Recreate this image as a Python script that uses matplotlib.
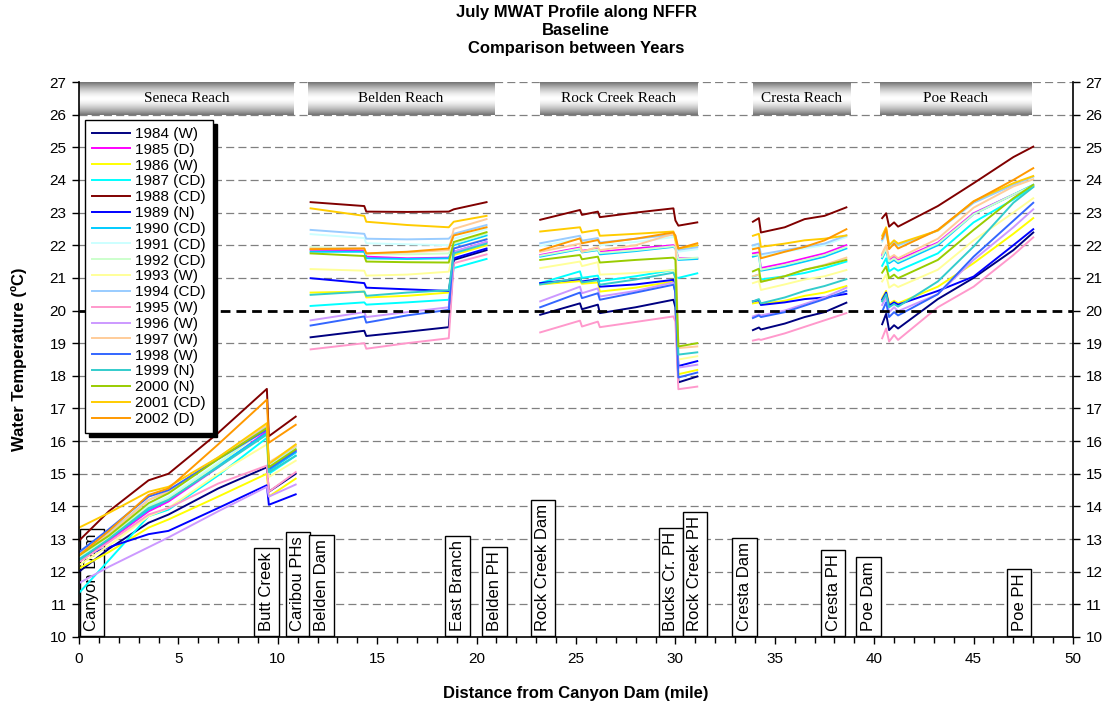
import numpy as np
import matplotlib
matplotlib.use('Agg')
import matplotlib.pyplot as plt
from matplotlib.ticker import MultipleLocator

plt.rcParams['font.family'] = ['Liberation Sans', 'DejaVu Sans']
plt.rcParams['lines.scale_dashes'] = False

YEARS = ['1984 (W)', '1985 (D)', '1986 (W)', '1987 (CD)', '1988 (CD)', '1989 (N)',
         '1990 (CD)', '1991 (CD)', '1992 (CD)', '1993 (W)', '1994 (CD)', '1995 (W)',
         '1996 (W)', '1997 (W)', '1998 (W)', '1999 (N)', '2000 (N)', '2001 (CD)', '2002 (D)']
COLORS = ['#000080', '#FF00FF', '#FFFF00', '#00FFFF', '#800000', '#0000FF',
          '#00CCFF', '#CCFFFF', '#CCFFCC', '#FFFF99', '#99CCFF', '#FF99CC',
          '#CC99FF', '#FFCC99', '#3366FF', '#33CCCC', '#99CC00', '#FFCC00', '#FF9900']

# Seneca Reach
SENECA_X = [0, 1.5, 3.5, 4.5, 7, 9.45, 9.55, 10.9]
SENECA_T = [
    [12.0, 12.7, 13.5, 13.75, 14.55, 15.2, 14.45, 15.0],
    [12.3, 12.95, 13.85, 14.15, 15.2, 16.3, 15.1, 15.7],
    [12.1, 12.6, 13.35, 13.6, 14.3, 15.0, 14.3, 14.85],
    [11.35, 12.35, 13.7, 13.9, 14.95, 16.1, 15.0, 15.55],
    [12.95, 13.85, 14.8, 15.0, 16.25, 17.6, 16.15, 16.75],
    [12.45, 12.75, 13.15, 13.25, 13.95, 14.65, 14.05, 14.37],
    [12.4, 13.0, 13.9, 14.2, 15.25, 16.25, 15.1, 15.65],
    [12.5, 13.1, 14.05, 14.3, 15.35, 16.4, 15.25, 15.8],
    [12.45, 13.05, 14.0, 14.25, 15.3, 16.4, 15.2, 15.8],
    [12.2, 12.8, 13.7, 13.95, 15.0, 15.9, 14.9, 15.4],
    [12.55, 13.2, 14.2, 14.45, 15.5, 16.45, 15.3, 15.85],
    [12.3, 12.9, 13.75, 13.95, 14.7, 15.25, 14.45, 15.05],
    [11.65, 12.15, 12.75, 13.05, 13.85, 14.6, 14.3, 14.67],
    [12.5, 13.15, 14.2, 14.45, 15.5, 16.5, 15.35, 15.85],
    [12.6, 13.3, 14.3, 14.5, 15.45, 16.35, 15.15, 15.7],
    [12.35, 13.0, 13.95, 14.2, 15.2, 16.2, 15.05, 15.55],
    [12.5, 13.1, 14.1, 14.4, 15.45, 16.4, 15.2, 15.75],
    [13.35, 13.8, 14.45, 14.6, 15.5, 16.55, 15.3, 15.9],
    [12.5, 13.25, 14.35, 14.55, 15.9, 17.27, 15.95, 16.5],
]

# Belden Reach
BELDEN_X = [11.65, 14.35, 14.45, 16.5, 18.6, 18.85, 20.5]
BELDEN_T = [
    [19.18, 19.38, 19.22, 19.35, 19.49, 21.55, 21.85],
    [21.86, 21.85, 21.65, 21.6, 21.62, 21.8, 22.1],
    [20.55, 20.58, 20.4, 20.45, 20.55, 21.7, 22.0],
    [20.14, 20.25, 20.18, 20.25, 20.33, 21.3, 21.58],
    [23.32, 23.2, 23.03, 23.02, 23.03, 23.1, 23.32],
    [20.99, 20.84, 20.7, 20.65, 20.6, 21.6, 21.9],
    [21.8, 21.8, 21.6, 21.58, 21.6, 22.0, 22.3],
    [22.34, 22.22, 22.06, 22.03, 22.0, 22.2, 22.5],
    [21.94, 21.9, 21.73, 21.72, 21.75, 22.05, 22.35],
    [21.27, 21.22, 21.07, 21.1, 21.19, 21.9, 22.2],
    [22.47, 22.35, 22.2, 22.18, 22.2, 22.35, 22.62],
    [18.81, 19.0, 18.83, 19.0, 19.15, 21.45, 21.72],
    [19.7, 19.95, 19.8, 19.95, 20.1, 21.8, 22.1],
    [21.9, 21.9, 21.75, 21.78, 21.85, 22.5, 22.8],
    [19.54, 19.82, 19.63, 19.85, 20.02, 21.9, 22.18],
    [20.48, 20.58, 20.45, 20.55, 20.62, 21.75, 22.05],
    [21.75, 21.67, 21.5, 21.48, 21.47, 22.1, 22.4],
    [23.13, 22.9, 22.72, 22.62, 22.55, 22.72, 22.9],
    [21.88, 21.9, 21.75, 21.8, 21.9, 22.3, 22.55],
]

# Rock Creek Reach
ROCK_X = [23.2, 25.2, 25.3, 26.1, 26.2, 28, 29.9, 30.0, 30.15, 31.1]
ROCK_T = [
    [19.87, 20.22, 20.04, 20.18, 19.92, 20.1, 20.33, 20.1, 17.8, 17.98],
    [21.7, 21.93, 21.83, 21.9, 21.8, 21.9, 22.0, 21.95, 21.6, 21.6],
    [20.8, 20.9, 20.82, 20.86, 20.58, 20.7, 20.89, 20.7, 18.05, 18.18],
    [20.84, 21.2, 21.0, 21.07, 20.9, 21.05, 21.24, 21.02, 21.0, 21.14],
    [22.78, 23.08, 22.93, 23.03, 22.86, 23.0, 23.13, 22.76, 22.6, 22.7],
    [20.84, 20.96, 20.89, 20.96, 20.73, 20.8, 20.94, 20.53, 18.3, 18.45],
    [21.65, 21.88, 21.78, 21.85, 21.72, 21.82, 21.95, 21.9, 21.55, 21.58],
    [21.98, 22.2, 22.08, 22.15, 22.0, 22.1, 22.25, 22.2, 21.8, 21.88],
    [21.68, 21.9, 21.8, 21.87, 21.76, 21.85, 21.97, 21.92, 21.58, 21.62],
    [21.3, 21.5, 21.36, 21.48, 21.1, 21.15, 21.24, 21.1, 18.5, 18.6],
    [22.06, 22.29, 22.14, 22.22, 22.08, 22.2, 22.32, 22.28, 21.86, 21.94],
    [19.33, 19.69, 19.51, 19.66, 19.49, 19.65, 19.82, 19.66, 17.59, 17.67],
    [20.28, 20.73, 20.53, 20.68, 20.43, 20.6, 20.86, 20.7, 18.25, 18.34],
    [21.8, 22.05, 21.8, 21.95, 21.85, 22.0, 22.35, 22.25, 18.85, 18.9],
    [20.1, 20.55, 20.38, 20.53, 20.33, 20.55, 20.79, 20.55, 17.95, 18.1],
    [20.8, 21.0, 20.86, 20.93, 20.79, 20.95, 21.16, 21.0, 18.65, 18.72],
    [21.55, 21.7, 21.57, 21.65, 21.47, 21.55, 21.62, 21.55, 18.9, 19.0],
    [22.42, 22.55, 22.39, 22.47, 22.29, 22.35, 22.42, 22.16, 21.9, 22.0],
    [21.84, 22.21, 22.06, 22.16, 22.06, 22.2, 22.39, 22.3, 21.9, 22.06],
]

# Cresta Reach
CRESTA_X = [33.9, 34.2, 34.3, 35.5, 36.5, 37.5, 38.6]
CRESTA_T = [
    [19.4, 19.48, 19.42, 19.6, 19.8, 19.95, 20.24],
    [21.75, 21.78, 21.3, 21.45, 21.6, 21.75, 22.0],
    [20.22, 20.25, 20.2, 20.3, 20.45, 20.55, 20.75],
    [21.04, 21.1, 20.95, 21.05, 21.15, 21.3, 21.5],
    [22.72, 22.83, 22.39, 22.55, 22.8, 22.9, 23.16],
    [20.28, 20.32, 20.17, 20.25, 20.35, 20.4, 20.51],
    [21.65, 21.7, 21.22, 21.35, 21.5, 21.65, 21.9],
    [21.95, 22.0, 21.65, 21.8, 21.9, 22.0, 22.25],
    [21.7, 21.72, 21.25, 21.4, 21.55, 21.7, 21.95],
    [20.84, 20.9, 20.63, 20.8, 20.95, 21.05, 21.24],
    [22.0, 22.05, 21.72, 21.85, 21.95, 22.05, 22.3],
    [19.08, 19.12, 19.1, 19.3, 19.5, 19.7, 19.92],
    [19.82, 19.88, 19.85, 20.0, 20.2, 20.4, 20.7],
    [21.05, 21.1, 20.88, 21.05, 21.25, 21.4, 21.62],
    [19.77, 19.85, 19.8, 19.95, 20.15, 20.35, 20.6],
    [20.28, 20.35, 20.22, 20.4, 20.6, 20.75, 20.96],
    [21.2, 21.28, 20.88, 21.05, 21.25, 21.38, 21.55],
    [22.29, 22.35, 21.95, 22.05, 22.15, 22.2, 22.3],
    [21.88, 21.92, 21.6, 21.8, 21.95, 22.15, 22.49],
]

# Poe Reach
POE_X = [40.4, 40.6, 40.75, 41.0, 41.2, 43.2, 45, 47, 48]
POE_T = [
    [19.58, 19.9, 19.4, 19.55, 19.45, 20.35, 21.0, 21.85, 22.39],
    [21.7, 21.95, 21.55, 21.65, 21.55, 22.08, 22.98, 23.55, 23.82],
    [20.38, 20.6, 20.2, 20.3, 20.22, 20.73, 21.45, 22.35, 22.83],
    [21.37, 21.6, 21.2, 21.3, 21.22, 21.75, 22.7, 23.4, 23.8],
    [22.83, 22.98, 22.57, 22.7, 22.57, 23.2, 23.9, 24.7, 25.02],
    [20.33, 20.55, 20.15, 20.25, 20.18, 20.6, 21.04, 22.0, 22.49],
    [21.6, 21.85, 21.45, 21.55, 21.45, 22.0, 22.95, 23.55, 23.85],
    [22.1, 22.35, 21.95, 22.05, 21.95, 22.45, 23.3, 23.85, 24.1],
    [21.65, 21.9, 21.5, 21.6, 21.5, 22.05, 22.95, 23.55, 23.83],
    [20.89, 21.1, 20.7, 20.8, 20.72, 21.25, 22.15, 23.0, 23.44],
    [22.15, 22.4, 22.0, 22.1, 22.0, 22.45, 23.3, 23.85, 24.1],
    [19.15, 19.45, 19.05, 19.25, 19.1, 20.1, 20.73, 21.7, 22.24],
    [20.17, 20.4, 19.95, 20.1, 19.98, 20.5, 21.55, 22.55, 23.1],
    [21.75, 22.0, 21.6, 21.7, 21.6, 22.2, 23.15, 23.8, 24.02],
    [19.97, 20.25, 19.8, 19.95, 19.85, 20.5, 21.65, 22.75, 23.3],
    [20.28, 20.5, 20.1, 20.2, 20.12, 20.89, 21.96, 23.3, 23.78],
    [21.16, 21.35, 20.99, 21.1, 20.99, 21.55, 22.47, 23.44, 23.85],
    [22.29, 22.55, 22.0, 22.15, 22.05, 22.45, 23.35, 23.9, 24.12],
    [22.2, 22.5, 21.88, 22.05, 21.9, 22.47, 23.34, 24.0, 24.36],
]

REACH_NAMES = ['Seneca Reach', 'Belden Reach', 'Rock Creek Reach', 'Cresta Reach', 'Poe Reach']
REACH_START = [0.0, 11.5, 23.2, 33.9, 40.3]
REACH_END = [10.8, 20.9, 31.1, 38.8, 47.9]

SITE_NAMES = ['Canyon Dam', 'Butt Creek', 'Caribou PHs', 'Belden Dam', 'East Branch',
              'Belden PH', 'Rock Creek Dam', 'Bucks Cr. PH', 'Rock Creek PH',
              'Cresta Dam', 'Cresta PH', 'Poe Dam', 'Poe PH']
SITE_X = [0.65, 9.43, 11.0, 12.19, 19.04, 20.9, 23.33, 29.77, 30.97, 33.47, 37.94, 39.72, 47.29]

THRESHOLD = 20

W, H = 1111, 708
fig = plt.figure(figsize=(W / 100, H / 100), dpi=100)
ax = fig.add_axes([79 / W, 1 - 637 / H, 994 / W, 555 / H])

# gridlines
for v in range(11, 28):
    if v == THRESHOLD:
        continue
    ax.axhline(v, color='#808080', lw=0.9, dashes=(5.8, 3.0), zorder=0.5)
ax.axhline(THRESHOLD, color='black', lw=2.0, dashes=(7.0, 4.3), zorder=3)

# data lines
reaches = [(SENECA_X, SENECA_T), (BELDEN_X, BELDEN_T), (ROCK_X, ROCK_T),
           (CRESTA_X, CRESTA_T), (POE_X, POE_T)]
for i, (lab, col) in enumerate(zip(YEARS, COLORS)):
    xs, ys = [], []
    for rx, rt in reaches:
        xs += list(rx) + [np.nan]
        ys += list(rt[i]) + [np.nan]
    ax.plot(xs, ys, color=col, lw=1.4, label=lab, zorder=2)

# reach banners
t = np.linspace(0, 1, 64)
grad = 1 - 0.55 * np.abs(2 * t - 1) ** 1.6
grad = grad[:, None]
for name, x0, x1 in zip(REACH_NAMES, REACH_START, REACH_END):
    ax.imshow(grad, cmap='gray', vmin=0, vmax=1, extent=[x0, x1, 26, 27],
              aspect='auto', zorder=1, interpolation='bilinear')
    ax.text((x0 + x1) / 2, 26.5, name, ha='center', va='center', fontsize=11,
            family=['Liberation Serif', 'DejaVu Serif'], zorder=1.5)

# site labels
for name, sx in zip(SITE_NAMES, SITE_X):
    ax.text(sx, 10.17, name, rotation=90, ha='center', va='bottom', fontsize=12,
            zorder=1.8,
            bbox=dict(boxstyle='square,pad=0.28', fc='white', ec='black', lw=1.0))

ax.set_xlim(0, 50)
ax.set_ylim(10, 27)
ax.xaxis.set_major_locator(MultipleLocator(5))
ax.xaxis.set_minor_locator(MultipleLocator(1))
ax.yaxis.set_major_locator(MultipleLocator(1))
ax.tick_params(axis='x', which='major', length=5, width=1, pad=6, labelsize=11)
ax.tick_params(axis='x', which='minor', length=4, width=1)
ax.tick_params(axis='y', which='major', length=5, width=1, pad=4, labelsize=11,
               left=True, right=True, labelleft=True, labelright=True)
ax.spines['top'].set_visible(False)
for s in ['left', 'right', 'bottom']:
    ax.spines[s].set_linewidth(1.2)

ax.set_xlabel('Distance from Canyon Dam (mile)', fontsize=12, fontweight='bold', labelpad=14)
ax.set_ylabel('Water Temperature (ºC)', fontsize=12, fontweight='bold', labelpad=16)

fig.text(576 / W, 1 - 5 / H, 'July MWAT Profile along NFFR\nBaseline\nComparison between Years',
         ha='center', va='top', fontsize=12, fontweight='bold', linespacing=1.25)

leg = ax.legend(loc='upper left', bbox_to_anchor=(6 / 994, (637 - 120) / 555),
                borderaxespad=0, fontsize=11, frameon=True, fancybox=False,
                edgecolor='black', framealpha=1, handlelength=2.5, handletextpad=0.35,
                labelspacing=0.12, borderpad=0.45,
                shadow={'ox': 3, 'oy': -3, 'color': 'black', 'alpha': 1})
leg.get_frame().set_linewidth(1.0)
leg.set_zorder(5)

fig.savefig('out.png', dpi=100)
